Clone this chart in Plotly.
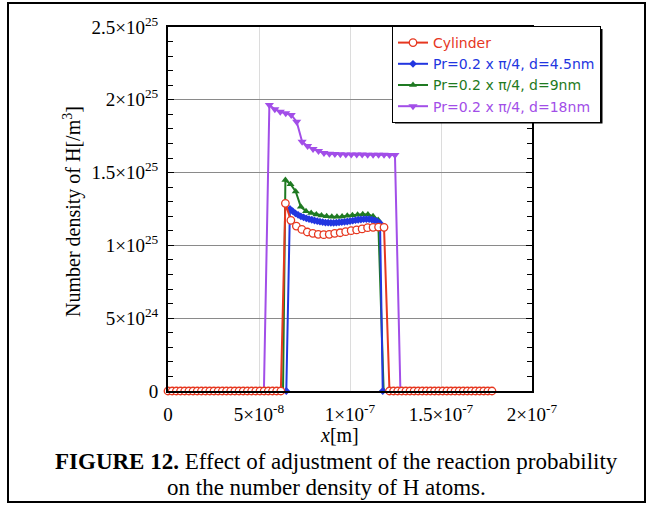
import numpy as np
import plotly.graph_objects as go

# positions in nm, values in m^-3
cyl_x = np.concatenate([np.linspace(0, 62, 28), np.linspace(64.5, 118.7, 19),
                        np.linspace(121.7, 178, 26)])
cyl_y = [0] * 28 + [
    1.289, 1.172, 1.133, 1.110, 1.092, 1.083, 1.076, 1.074, 1.076, 1.083,
    1.087, 1.094, 1.101, 1.106, 1.113, 1.122, 1.124, 1.126, 1.124,
] + [0] * 26

d45_x = [65.0] + list(np.arange(67.0, 117.0, 1.5)) + [118.0]
d45_y = [0, 1.250, 1.235, 1.220, 1.209, 1.200, 1.193, 1.186, 1.181, 1.176, 1.171,
         1.167, 1.163, 1.160, 1.157, 1.156, 1.155, 1.155, 1.156, 1.158, 1.160,
         1.162, 1.164, 1.167, 1.170, 1.173, 1.176, 1.178, 1.180, 1.181, 1.180,
         1.177, 1.172, 1.165, 1.152, 0]

d9_x = [63.2] + list(np.linspace(64.5, 115.5, 19)) + [118.5]
d9_y = [0, 1.449, 1.420, 1.370, 1.265, 1.235, 1.222, 1.213, 1.206, 1.200, 1.197,
        1.197, 1.199, 1.203, 1.207, 1.211, 1.214, 1.213, 1.200, 1.175, 0]

d18_x = [52.7] + list(np.arange(55.7, 126.0, 3.0)) + [127.7]
d18_y = [0, 1.964, 1.935, 1.918, 1.907, 1.896, 1.850, 1.712, 1.683, 1.662, 1.648,
         1.635, 1.629, 1.627, 1.626, 1.625, 1.625, 1.624, 1.624, 1.623, 1.623,
         1.622, 1.622, 1.621, 1.621, 0]

x_ticks = [0, 5e-8, 1e-7, 1.5e-7, 2e-7]
x_labels = ["0", "5×10<sup>-8</sup>", "1×10<sup>-7</sup>", "1.5×10<sup>-7</sup>", "2×10<sup>-7</sup>"]
y_ticks = [0, 5e24, 1e25, 1.5e25, 2e25, 2.5e25]
y_labels = ["0", "5×10<sup>24</sup>", "1×10<sup>25</sup>", "1.5×10<sup>25</sup>",
            "2×10<sup>25</sup>", "2.5×10<sup>25</sup>"]

RED, BLUE, GREEN, PURPLE = "#e6371f", "#2236e0", "#1f7a22", "#a24ee8"
SERIF = "Liberation Serif"


def nm(v):
    return np.asarray(v, dtype=float) * 1e-9


def e25(v):
    return np.asarray(v, dtype=float) * 1e25


def px(x):
    return (x - 168) / 364


def py(y):
    return (391 - y) / 364


def label(text, color):
    return f'<span style="color:{color}">{text}</span>'


fig = go.Figure()
fig.add_trace(go.Scatter(
    x=nm(d18_x), y=e25(d18_y), mode="lines+markers", legendrank=4,
    name=label("Pr=0.2 x π/4, d=18nm", PURPLE),
    line=dict(color=PURPLE, width=2),
    marker=dict(symbol="triangle-down", size=8, color=PURPLE),
    cliponaxis=False,
))
fig.add_trace(go.Scatter(
    x=nm(d9_x), y=e25(d9_y), mode="lines+markers", legendrank=3,
    name=label("Pr=0.2 x π/4, d=9nm", GREEN),
    line=dict(color=GREEN, width=2),
    marker=dict(symbol="triangle-up", size=7, color=GREEN),
    cliponaxis=False,
))
fig.add_trace(go.Scatter(
    x=nm(d45_x), y=e25(d45_y), mode="lines+markers", legendrank=2,
    name=label("Pr=0.2 x π/4, d=4.5nm", BLUE),
    line=dict(color=BLUE, width=2),
    marker=dict(symbol="diamond", size=6, color=BLUE),
    cliponaxis=False,
))
fig.add_trace(go.Scatter(
    x=nm(cyl_x), y=e25(cyl_y), mode="lines+markers", legendrank=1,
    name=label("Cylinder", RED),
    line=dict(color=RED, width=2),
    marker=dict(symbol="circle", size=7.5, color="white", line=dict(color=RED, width=1.3)),
    cliponaxis=False,
))

fig.update_layout(
    width=648, height=505,
    margin=dict(l=168, r=116, t=27, b=114),
    paper_bgcolor="white", plot_bgcolor="white",
    font=dict(family=SERIF, size=19, color="black"),
    xaxis=dict(
        range=[0, 2e-7], tickmode="array", tickvals=x_ticks, ticktext=x_labels,
        ticks="", showgrid=True, gridcolor="#dcdcdc", gridwidth=1, zeroline=False,
        showline=True, linecolor="black", linewidth=2, mirror=True,
        tickfont=dict(family=SERIF, size=19), ticklabelstandoff=5,
    ),
    yaxis=dict(
        range=[0, 2.5e25], tickmode="array", tickvals=y_ticks, ticktext=y_labels,
        ticks="inside", ticklen=6, tickcolor="black", showgrid=True,
        gridcolor="#8a8a8a", gridwidth=1, zeroline=False,
        showline=True, linecolor="black", linewidth=2, mirror="ticks",
        minor=dict(tickmode="linear", tick0=0, dtick=1e24, ticks="inside",
                   ticklen=5, tickcolor="black", showgrid=False),
        tickfont=dict(family=SERIF, size=19), ticklabelstandoff=4,
    ),
    legend=dict(
        x=px(392), y=py(26), xanchor="left", yanchor="top",
        bgcolor="white", bordercolor="black", borderwidth=1,
        font=dict(family="DejaVu Sans", size=14),
        tracegroupgap=0,
    ),
    shapes=[
        dict(type="rect", xref="paper", yref="paper", layer="above",
             x0=px(395), x1=px(602.5), y0=py(123.5), y1=py(29),
             fillcolor="black", line=dict(width=0)),
        dict(type="rect", xref="paper", yref="paper", layer="below",
             x0=px(8), x1=px(645), y0=py(502), y1=py(3),
             line=dict(color="black", width=2)),
    ],
    annotations=[
        dict(text="Number density of H[/m<sup>3</sup>]", x=px(72), y=py(212),
             textangle=-90, font=dict(family=SERIF, size=20)),
        dict(text="<i>x</i>[m]", x=px(339), y=py(435), font=dict(family=SERIF, size=20)),
        dict(text="<b>FIGURE 12.</b> Effect of adjustment of the reaction probability",
             x=px(336), y=py(461), font=dict(family=SERIF, size=23)),
        dict(text="on the number density of H atoms.", x=px(326), y=py(487),
             font=dict(family=SERIF, size=23)),
    ],
)
fig.update_annotations(xref="paper", yref="paper", showarrow=False,
                       xanchor="center", yanchor="middle")

fig.write_html("out.html", config={"displayModeBar": False},
               post_script="document.body.style.margin='0px';")
